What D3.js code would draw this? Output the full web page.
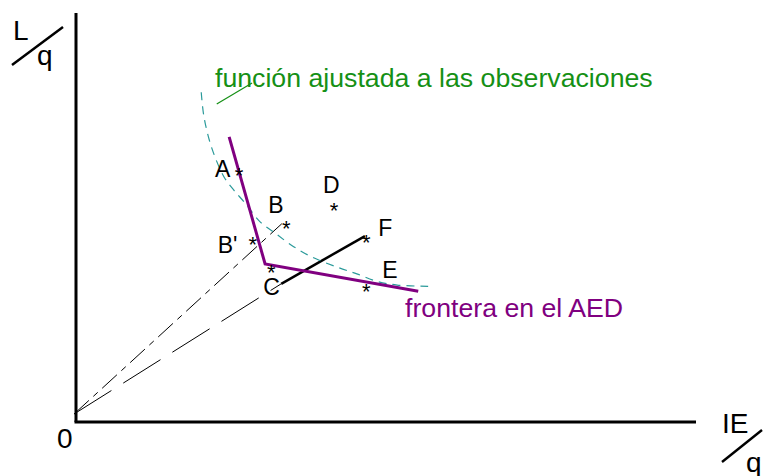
<!DOCTYPE html>
<html>
<head>
<meta charset="utf-8">
<script src="https://cdn.jsdelivr.net/npm/d3@7"></script>
<style>
  body { margin: 0; background: #fff; }
  svg { display: block; font-family: "Liberation Sans", Arial, sans-serif; }
</style>
</head>
<body>
<script>
// observed units: names and [IE/q, L/q] values
var pointNames = ["A", "B", "B'", "C", "D", "E", "F"];
var pointIE = [2.63, 3.39, 2.85, 3.15, 4.16, 4.68, 4.68];
var pointL = [4.06, 3.21, 2.94, 2.50, 3.50, 2.18, 2.98];

// DEA frontier (piecewise linear)
var frontierIE = [2.47, 3.05, 5.52];
var frontierL = [4.60, 2.55, 2.11];

// fitted function through the observations
var fitIE = [2.02, 2.06, 2.15, 2.26, 2.39, 2.53, 2.73, 2.97, 3.21, 3.48, 3.81, 4.21, 4.53, 4.85, 5.18, 5.68];
var fitL = [5.32, 4.95, 4.55, 4.23, 3.95, 3.76, 3.53, 3.23, 3.05, 2.85, 2.66, 2.50, 2.39, 2.27, 2.21, 2.19];

// rays from the origin: to B (through B') and to F (through the frontier)
var rayOrigin = [-0.03, 0.13];
var rayB = [3.32, 3.20];
var rayFStart = [3.31, 2.23];
var rayFEnd = [4.66, 3.00];

// leader line of the fitted function label
var leaderIE = [2.27, 2.84];
var leaderL = [5.13, 5.47];

var axisMax = [10, 6.6];

// label offsets in px relative to the asterisk
var labelOffset = {"A": [-24, 7], "B": [-18, -10], "B'": [-35, 13], "C": [-8, 28],
                   "D": [-11, -12], "E": [16, -9], "F": [12, -1]};

var width = 763, height = 476;

var svg = d3.select("body").append("svg")
    .attr("width", width)
    .attr("height", height);

var x = d3.scaleLinear().domain([0, axisMax[0]]).range([76, 696]);
var y = d3.scaleLinear().domain([0, axisMax[1]]).range([422, 13]);

var line = d3.line()
    .x(function(d){ return x(d[0]); })
    .y(function(d){ return y(d[1]); });

//axes
svg.append("line")
    .attr("x1", x(0)).attr("y1", y(0))
    .attr("x2", x(0)).attr("y2", y(axisMax[1]))
    .attr("stroke", "#000").attr("stroke-width", 3);
svg.append("line")
    .attr("x1", x(0) - 1.5).attr("y1", y(0))
    .attr("x2", x(axisMax[0])).attr("y2", y(0))
    .attr("stroke", "#000").attr("stroke-width", 3);

//axis titles
var axisFont = 28;
svg.append("text").attr("x", 13).attr("y", 40).attr("font-size", axisFont).text("L");
svg.append("text").attr("x", 37).attr("y", 65).attr("font-size", axisFont).text("q");
svg.append("line").attr("x1", 12).attr("y1", 65).attr("x2", 63).attr("y2", 27)
    .attr("stroke", "#000").attr("stroke-width", 2.5);

svg.append("text").attr("x", 722).attr("y", 433).attr("font-size", axisFont).text("IE");
svg.append("text").attr("x", 746).attr("y", 472).attr("font-size", axisFont).text("q");
svg.append("line").attr("x1", 722).attr("y1", 462).attr("x2", 762).attr("y2", 430)
    .attr("stroke", "#000").attr("stroke-width", 2.5);

svg.append("text").attr("x", 57).attr("y", 448).attr("font-size", axisFont).text("0");

//rays from the origin
svg.append("path")
    .attr("d", line([rayOrigin, rayB]))
    .attr("fill", "none").attr("stroke", "#000").attr("stroke-width", 1)
    .attr("stroke-dasharray", "20,6,6,6");
svg.append("path")
    .attr("d", line([rayOrigin, rayFStart]))
    .attr("fill", "none").attr("stroke", "#000").attr("stroke-width", 1)
    .attr("stroke-dasharray", "44,14");
svg.append("path")
    .attr("d", line([rayFStart, rayFEnd]))
    .attr("fill", "none").attr("stroke", "#000").attr("stroke-width", 2.5);

//fitted function
var fitData = fitIE.map(function(v, i){ return [v, fitL[i]]; });
svg.append("path")
    .attr("d", line.curve(d3.curveCatmullRom)(fitData))
    .attr("fill", "none").attr("stroke", "#2a9a9a").attr("stroke-width", 1.2)
    .attr("stroke-dasharray", "8,6");
line.curve(d3.curveLinear);

//DEA frontier
var frontierData = frontierIE.map(function(v, i){ return [v, frontierL[i]]; });
svg.append("path")
    .attr("d", line(frontierData))
    .attr("fill", "none").attr("stroke", "#800080").attr("stroke-width", 3);

//leader line and annotations
svg.append("path")
    .attr("d", line(leaderIE.map(function(v, i){ return [v, leaderL[i]]; })))
    .attr("stroke", "#159015").attr("stroke-width", 1.2);
svg.append("text").attr("x", 215).attr("y", 87).attr("font-size", 26.7)
    .attr("fill", "#159015").text("función ajustada a las observaciones");
svg.append("text").attr("x", 405).attr("y", 317).attr("font-size", 26.7)
    .attr("fill", "#800080").text("frontera en el AED");

//observations
var points = pointNames.map(function(n, i){
    return {name: n, ie: pointIE[i], l: pointL[i]};
});

svg.selectAll(".star")
    .data(points)
    .enter()
    .append("text")
    .attr("class", "star")
    .attr("x", function(d){ return x(d.ie); })
    .attr("y", function(d){ return y(d.l) + 12.5; })
    .attr("text-anchor", "middle")
    .attr("font-size", 22)
    .text("*");

svg.selectAll(".plabel")
    .data(points)
    .enter()
    .append("text")
    .attr("class", "plabel")
    .attr("x", function(d){ return x(d.ie) + labelOffset[d.name][0]; })
    .attr("y", function(d){ return y(d.l) + labelOffset[d.name][1]; })
    .attr("font-size", 23)
    .text(function(d){ return d.name; });
</script>
</body>
</html>
